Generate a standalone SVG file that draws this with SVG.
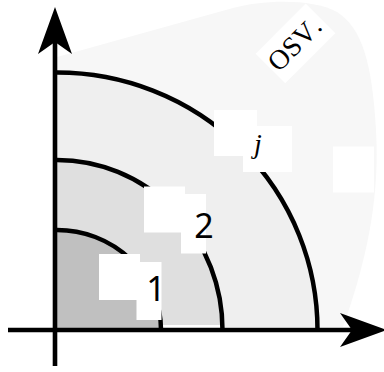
<svg xmlns="http://www.w3.org/2000/svg" width="384" height="372" viewBox="0 0 384 372">
  <defs>
    <marker id="arrow" markerUnits="userSpaceOnUse" markerWidth="60" markerHeight="40" refX="0" refY="0" orient="auto" overflow="visible">
      <path d="M-12,-17 L35,0 L-12,17 L0,0 Z" fill="#000"/>
    </marker>
  </defs>
  <style>
    .arc { fill: none; stroke: #000; stroke-width: 4.5; }
    .axis { stroke: #000; stroke-width: 4.6; fill: none; marker-end: url(#arrow); }
    .mask { fill: #fff; }
    .num { font-family: "Noto Sans", "DejaVu Sans", sans-serif; font-size: 34px; fill: #000; text-anchor: middle; }
    .serif { font-family: "Liberation Serif", "Times New Roman", serif; fill: #000; text-anchor: middle; }
  </style>

  <g id="region-outer">
    <path d="M57,57 L233,8 C262,0 312,-2 337,12 C362,28 372,62 376,130 C380,200 366,262 343,327 L57,327 Z" fill="#f7f7f7"/>
  </g>
  <g id="region-j">
    <path d="M57,327 L57,72.5 A260.5,257.5 0 0 1 317.5,327 Z" fill="#efefef"/>
    <path class="arc" d="M57,72.5 A260.5,257.5 0 0 1 317.5,330"/>
  </g>
  <g id="region-2">
    <path d="M57,325 L57,160 A165.5,170 0 0 1 222.4,325 Z" fill="#dfdfdf"/>
    <rect x="57" y="325" width="166" height="4" fill="#fff"/>
    <path class="arc" d="M57,160 A165.5,170 0 0 1 222.5,330"/>
  </g>
  <g id="region-1">
    <path d="M57,330 L57,230 A104,100 0 0 1 161,330 Z" fill="#c0c0c0"/>
    <path class="arc" d="M57,230 A104,100 0 0 1 161,330"/>
  </g>

  <g id="label-1">
    <rect class="mask" x="99" y="254" width="41" height="46"/>
    <rect class="mask" x="136.5" y="262" width="25" height="58"/>
    <text class="num" x="156" y="301">1</text>
  </g>
  <g id="label-2">
    <rect class="mask" x="144" y="186.5" width="41" height="46"/>
    <rect class="mask" x="181" y="194" width="25" height="59.5"/>
    <text class="num" x="204" y="238">2</text>
  </g>
  <g id="label-j">
    <rect class="mask" x="214" y="110" width="43" height="46"/>
    <rect class="mask" x="243" y="126" width="49" height="46"/>
    <text class="serif" x="258" y="152.5" font-size="28" font-style="italic">j</text>
  </g>
  <g id="label-blank">
    <rect class="mask" x="333" y="146.5" width="41" height="46"/>
  </g>
  <g id="label-osv" transform="translate(295.5,43.4) rotate(-45)">
    <rect class="mask" x="-35.5" y="-21" width="71" height="42"/>
    <text class="serif" x="-1" y="9" font-size="28">OSV<tspan dx="4">.</tspan></text>
  </g>

  <g id="connectors">
    <line class="axis" x1="55" y1="366" x2="55" y2="42"/>
    <line class="axis" x1="8" y1="330" x2="352" y2="330"/>
  </g>
</svg>
